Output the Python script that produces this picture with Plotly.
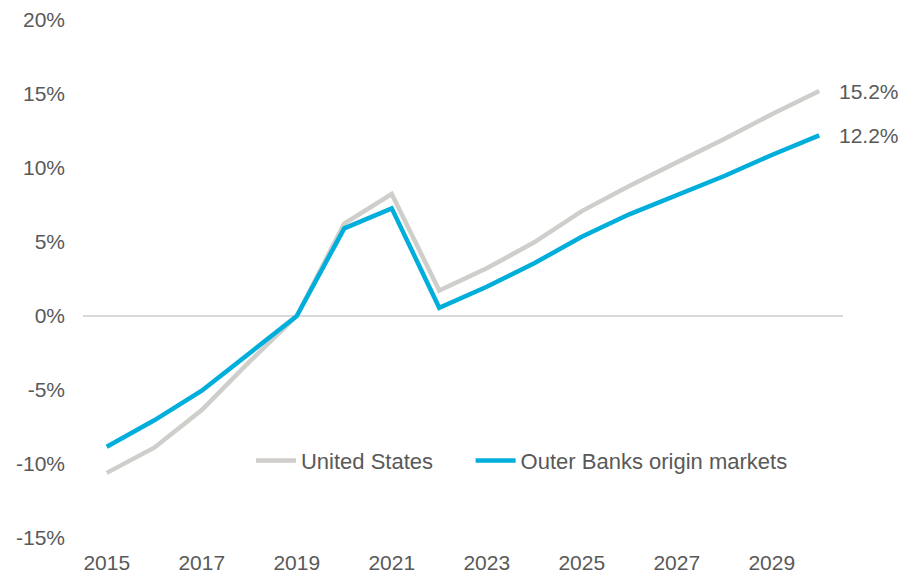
import plotly.graph_objects as go

years = list(range(2015, 2031))
us_growth = [-10.6, -8.9, -6.35, -3.1, 0.0, 6.25, 8.24, 1.72,
             3.22, 4.98, 7.09, 8.78, 10.38, 11.96, 13.63, 15.2]
obx_growth = [-8.83, -7.05, -5.05, -2.52, 0.0, 5.92, 7.27, 0.56,
              1.98, 3.56, 5.36, 6.87, 8.18, 9.46, 10.88, 12.2]
x_ticks = [2015, 2017, 2019, 2021, 2023, 2025, 2027, 2029]
y_ticks = [-15, -10, -5, 0, 5, 10, 15, 20]

GRAY = "#D0CECA"
BLUE = "#00AEDB"
TEXT = "#595959"
FONT = "Liberation Sans, Arial, sans-serif"
FS = 21

fig = go.Figure()
fig.add_trace(go.Scatter(x=years, y=us_growth, mode="lines", name="United States",
                         line=dict(color=GRAY, width=4.5), legend="legend"))
fig.add_trace(go.Scatter(x=years, y=obx_growth, mode="lines", name="Outer Banks origin markets",
                         line=dict(color=BLUE, width=4.5), legend="legend2"))

for series in (us_growth, obx_growth):
    fig.add_annotation(x=years[-1], y=series[-1], text=f"{series[-1]:.1f}%",
                       showarrow=False, xanchor="left", xshift=18,
                       font=dict(family=FONT, size=FS, color=TEXT))

legend_style = dict(orientation="h", y=0.149, xanchor="left", yanchor="middle",
                    bgcolor="rgba(0,0,0,0)", font=dict(family=FONT, size=22, color=TEXT),
                    itemwidth=40)

fig.update_layout(
    width=918, height=576,
    margin=dict(l=83, r=75, t=20, b=38, autoexpand=False),
    plot_bgcolor="white", paper_bgcolor="white",
    font=dict(family=FONT, size=FS, color=TEXT),
    showlegend=True,
    legend=dict(x=0.221, **legend_style),
    legend2=dict(x=0.51, **legend_style),
    xaxis=dict(range=[2014.5, 2030.5], tickmode="array", tickvals=x_ticks,
               showgrid=False, zeroline=False, showline=False, ticks="",
               ticklabelstandoff=10, automargin=False, fixedrange=True),
    yaxis=dict(range=[-15, 20], tickmode="array", tickvals=y_ticks,
               ticktext=[f"{v}%" for v in y_ticks],
               showgrid=False, zeroline=True, zerolinecolor="#D9D9D9", zerolinewidth=1.5,
               showline=False, ticks="", ticklabelstandoff=17, automargin=False,
               fixedrange=True),
)

fig.write_html("out.html")
